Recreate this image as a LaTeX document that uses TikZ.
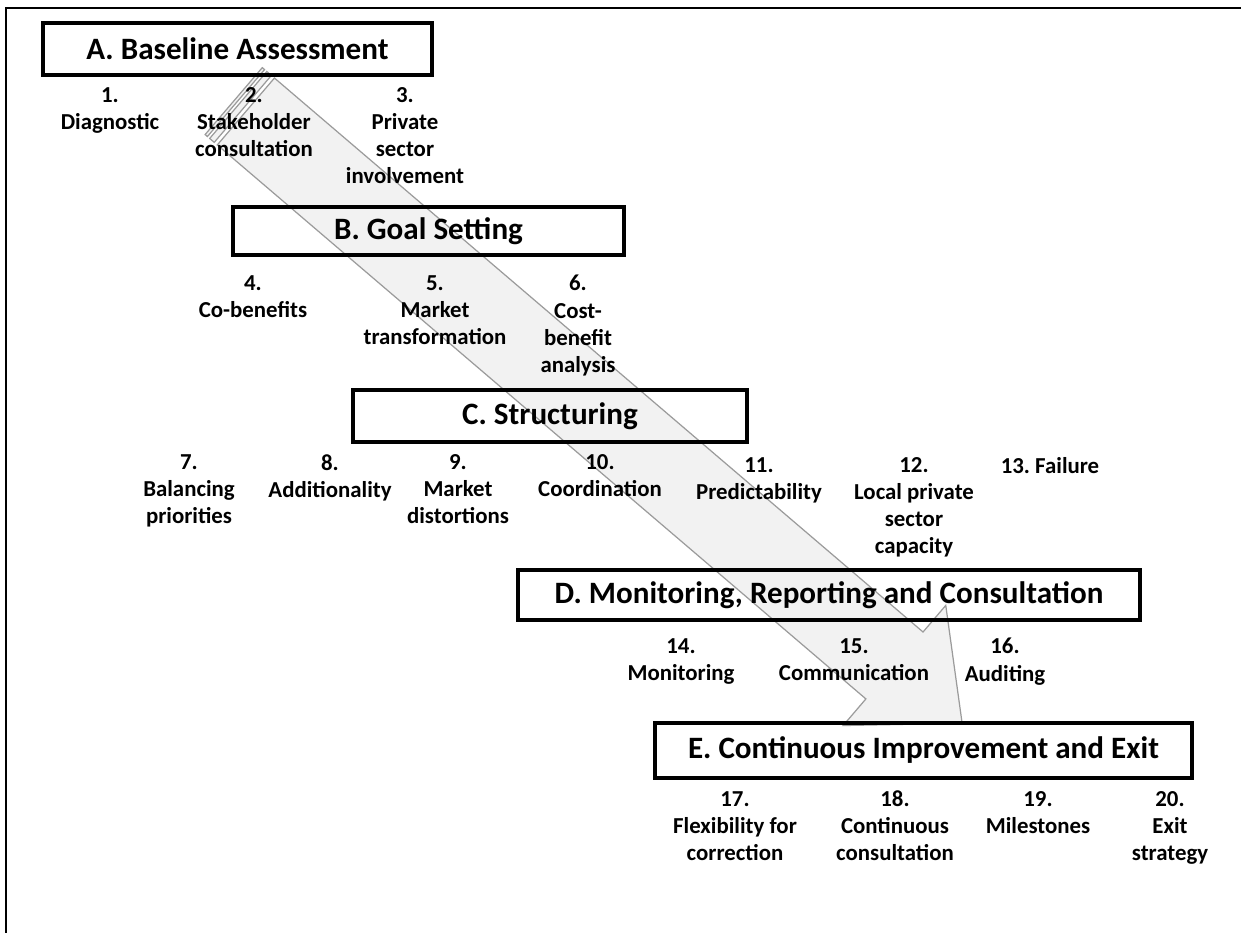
\documentclass[tikz,border=0pt]{standalone}
\usepackage{fontspec}
\setmainfont{Carlito}
\usepackage{tikz}
\usepackage{xcolor}

\definecolor{arrowfill}{RGB}{242,242,242}
\definecolor{arrowline}{RGB}{155,155,155}

\begin{document}
\begin{tikzpicture}[x=0.02cm, y=-0.02cm,
        stage/.style={draw, line width=2pt, minimum height=1cm, inner sep=0pt,
            font=\bfseries\fontsize{17.7}{21}\selectfont},
        item/.style={anchor=north, align=center, inner sep=0pt,
            font=\bfseries\fontsize{13}{15.4}\selectfont, execute at begin node=\strut},
        band/.style={fill=arrowfill, draw=arrowline, line width=0.7pt}]
        \useasboundingbox (0,0) rectangle (1241,933);
        \draw [line width=1.1pt] (1241,8) -| (6,933);

        % striped arrow running from A to E
        \begin{scope}[shift={(233.7,101.1)}, rotate=-40.5]
            \draw [band] (0,-44) rectangle (3,44);
            \draw [band] (6,-44) rectangle (12,44);
            \draw [band] (16,-44) -- (869,-44) -- (869,-79) -- (958,0) -- (869,79) -- (869,44) -- (16,44) -- cycle;
        \end{scope}

        \node [stage, minimum width=7.78cm, minimum height=1.04cm] (A) at (237.5,49) {A. Baseline Assessment};
        \node [stage, minimum width=7.82cm, minimum height=0.96cm] (B) at (428.5,231) {B. Goal Setting};
        \node [stage, minimum width=7.88cm, minimum height=1.04cm] (C) at (550,416) {C. Structuring};
        \node [stage, minimum width=12.44cm] (D) at (829,595) {D. Monitoring, Reporting and Consultation};
        \node [stage, minimum width=10.74cm, minimum height=1.1cm] (E) at (923.5,750.5) {E. Continuous Improvement and Exit};

        \node [item] (i1) at (110,87) {1.\\Diagnostic};
        \node [item] (i2) at (254,87) {2.\\Stakeholder\\consultation};
        \node [item] (i3) at (405,87) {3.\\Private\\sector\\involvement};

        \node [item] (i4) at (253,275) {4.\\Co-benefits};
        \node [item] (i5) at (435,275) {5.\\Market\\transformation};
        \node [item] (i6) at (578,275) {6.\\Cost-\\benefit\\analysis};

        \node [item] (i7) at (189,454) {7.\\Balancing\\priorities};
        \node [item] (i8) at (330,454) {8.\\Additionality};
        \node [item] (i9) at (458,454) {9.\\Market\\distortions};
        \node [item] (i10) at (600,454) {10.\\Coordination};
        \node [item] (i11) at (759,457) {11.\\Predictability};
        \node [item] (i12) at (914,457) {12.\\Local private\\sector\\capacity};
        \node [item] (i13) at (1050,454) {13.\ Failure};

        \node [item] (i14) at (681,638) {14.\\Monitoring};
        \node [item] (i15) at (854,638) {15.\\Communication};
        \node [item] (i16) at (1005,638) {16.\\Auditing};

        \node [item] (i17) at (735,791) {17.\\Flexibility for\\correction};
        \node [item] (i18) at (895,790) {18.\\Continuous\\consultation};
        \node [item] (i19) at (1038,791) {19.\\Milestones};
        \node [item] (i20) at (1170,791) {20.\\Exit\\strategy};
\end{tikzpicture}
\end{document}
